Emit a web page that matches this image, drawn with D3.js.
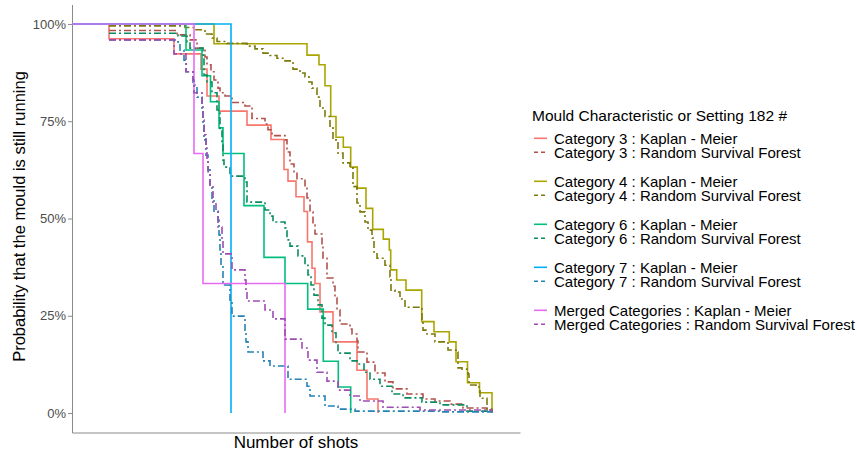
<!DOCTYPE html>
<html>
<head>
<meta charset="utf-8">
<script src="https://cdn.jsdelivr.net/npm/d3@7"></script>
<style>
  body { margin: 0; background: #fff; }
  svg { display: block; font-family: "Liberation Sans", Arial, sans-serif; }
</style>
</head>
<body>
<svg id="chart" width="857" height="452"></svg>
<script>
// survival curves: [shots, % still running]
var cat3Km = [[0,100],[37,96.2],[102,92.3],[129,88.4],[135,81.5],[147,77.6],[175,74.0],[199,70.3],[212,62.6],[216,59.6],[224,55.6],[232,51.8],[235.5,44.0],[240,37.2],[243,33.3],[248,26.0],[261,18.3],[285,11.0],[295,3.6],[306,0]];
var cat3Rsf = [[37,98.3],[105,97.2],[118,95.9],[125,93.8],[133,91.5],[135,89.5],[139,87.7],[142,85.6],[146,83.5],[148,82.3],[153,81.5],[160,79.8],[173,78.9],[180,75.7],[193,74.3],[196,72.8],[200,71.3],[213,70.2],[215,67.1],[218,64.0],[222,62.0],[225,60.2],[233,58.1],[235,55.3],[238,51.7],[241,48.3],[243,46.0],[250,43.2],[251,39.8],[255,34.7],[261,32.6],[263,29.6],[265,26.5],[268,22.9],[278,21.6],[280,20.3],[285,18.5],[286,15.7],[295,13.1],[303,10.3],[313,8.0],[321,6.2],[335,4.9],[351,3.6],[363,3.1],[378,2.3],[391,1.3],[415,0.8],[420,0.3]];
var cat4Km = [[0,100],[142,94.9],[235,92.0],[247,89.5],[253,84.1],[258.7,76.2],[264,70.9],[271.3,68.3],[278.7,63.2],[285.3,57.8],[294,52.6],[300.7,47.2],[311.3,44.7],[317.3,41.9],[318.7,36.8],[324.7,34.2],[334,31.6],[349.7,23.5],[362,20.9],[377.3,18.3],[384,13.2],[395.5,7.8],[407.5,5.2],[420,0]];
var cat4Rsf = [[37,99.5],[113,99.1],[124,98.5],[133,97.4],[140,96.4],[145,95.5],[155,95.0],[175,94.3],[183,93.6],[191,92.5],[198,91.9],[205,91.2],[213,90.5],[221,88.4],[228,87.4],[233,86.4],[237,85.1],[240,83.5],[245,81.2],[248,78.4],[253,76.2],[258,73.3],[261,70.2],[266,66.8],[271,64.3],[278,63.0],[281,58.2],[285,54.0],[288,51.7],[293,49.1],[296,47.0],[300,45.0],[302,41.4],[305,39.8],[313,38.0],[318,35.0],[319,31.6],[323,31.1],[328,29.3],[333,27.2],[350,23.9],[351,21.3],[355,20.3],[363,18.3],[376,16.2],[384,15.7],[386,11.6],[390,11.3],[396,10.0],[397,7.2],[404,6.7],[408,3.8],[415,1.0],[420,0.3]];
var cat6Km = [[0,100],[114,93.3],[130,86.7],[138.5,80.0],[147,73.3],[151,66.7],[172,53.3],[192,40.0],[213,33.3],[235.7,26.7],[251.3,13.3],[266.3,6.7],[278.7,0]];
var cat6Rsf = [[37,97.6],[106,96.9],[115,95.4],[118,93.8],[131,92.0],[132,86.9],[135,85.1],[140,82.3],[145,77.9],[148,72.8],[150,68.9],[151,65.0],[152,63.2],[158,60.9],[173,59.4],[175,54.2],[193,52.2],[198,50.6],[201,49.1],[213,47.6],[215,44.5],[218,42.9],[226,40.4],[233,38.0],[236,35.5],[239,32.9],[242,30.3],[246,27.8],[250,24.4],[253,22.6],[260,20.6],[264,17.5],[266,15.4],[278,13.4],[285,12.6],[292,10.5],[298,8.7],[308,6.9],[320,4.9],[331,3.9],[350,2.8],[368,2.1],[395,0.5],[420,0.2]];
var cat7Km = [[0,100],[159,0]];
var cat7Rsf = [[37,95.9],[103,95.4],[108,93.3],[112,90.7],[114,87.7],[121,84.3],[125,81.2],[130,77.9],[131,74.0],[132,70.2],[134,66.3],[136,62.5],[138,58.6],[140,54.8],[142,51.9],[146,49.6],[147,45.8],[148,41.9],[149,38.0],[151,32.9],[158,29.0],[160,24.9],[173,21.3],[174,18.3],[176,15.7],[191,13.4],[198,12.1],[216,8.7],[235,6.9],[238,4.4],[253,1.8],[266,1.0],[283,0.5],[368,0.3],[420,0.1]];
var mergedKm = [[0,100],[122,66.7],[131,33.3],[213,0]];
var mergedRsf = [[37,95.9],[102,92.3],[114,87.7],[121,85.6],[122,82.3],[130,79.4],[131,75.3],[132,71.5],[134,68.1],[135,65.0],[136,62.0],[138,58.6],[141,54.2],[144,51.7],[146,47.8],[150,44.5],[151,40.9],[160,36.8],[173,34.2],[174,31.6],[175,28.8],[193,26.5],[201,24.2],[213,19.0],[230,16.7],[236,13.6],[245,10.5],[255,8.2],[266,5.9],[278,4.4],[288,3.1],[311,1.5],[348,0.8],[420,0.3]];

var groups = ["Category 3", "Category 4", "Category 6", "Category 7", "Merged Categories"];
var methods = ["Kaplan - Meier", "Random Survival Forest"];
var yTicks = [0, 25, 50, 75, 100];

var series = [
  {group: 0, method: 0, data: cat3Km, color: "#F8766D"},
  {group: 0, method: 1, data: cat3Rsf, color: "#B2514B"},
  {group: 1, method: 0, data: cat4Km, color: "#AAA500"},
  {group: 1, method: 1, data: cat4Rsf, color: "#7C7A0C"},
  {group: 2, method: 0, data: cat6Km, color: "#00BF7D"},
  {group: 2, method: 1, data: cat6Rsf, color: "#0A8C5E"},
  {group: 3, method: 0, data: cat7Km, color: "#00B0F6"},
  {group: 3, method: 1, data: cat7Rsf, color: "#2383B4"},
  {group: 4, method: 0, data: mergedKm, color: "#E76BF3"},
  {group: 4, method: 1, data: mergedRsf, color: "#9E4DB2"}
];

var svg = d3.select("#chart");
var panel = {left: 72, right: 520, top: 4.5, bottom: 432.5};

var x = d3.scaleLinear().domain([0, 448]).range([panel.left, panel.right]);
var y = d3.scaleLinear().domain([-5, 105]).range([panel.bottom, panel.top]);

var line = d3.line()
  .x(function(d) { return x(d[0]); })
  .y(function(d) { return y(d[1]); })
  .curve(d3.curveStepAfter);

// axes
var yAxis = svg.append("g")
  .attr("transform", "translate(" + panel.left + ",0)")
  .call(d3.axisLeft(y).tickValues(yTicks).tickFormat(function(d) { return d + "%"; })
    .tickSizeInner(4).tickSizeOuter(0).tickPadding(2));
var xAxis = svg.append("g")
  .attr("transform", "translate(0," + panel.bottom + ")")
  .call(d3.axisBottom(x).tickValues([]).tickSizeOuter(0));

[yAxis, xAxis].forEach(function(a) {
  a.attr("font-size", 13).attr("font-family", "'Liberation Sans', Arial, sans-serif");
  a.selectAll("path, line").attr("stroke", "#8a8a8a").attr("stroke-width", 1);
  a.selectAll("text").attr("fill", "#4D4D4D");
});

svg.append("text")
  .attr("transform", "translate(19," + ((panel.top + panel.bottom) / 2 - 2) + ") rotate(-90)")
  .attr("text-anchor", "middle")
  .attr("dy", "0.35em")
  .style("font-size", "16.5px")
  .text("Probability that the mould is still running");

svg.append("text")
  .attr("x", (panel.left + panel.right) / 2)
  .attr("y", 448)
  .attr("text-anchor", "middle")
  .style("font-size", "17px")
  .text("Number of shots");

// curves
svg.append("g").selectAll("path")
  .data(series)
  .enter()
  .append("path")
  .attr("d", function(d) { return line(d.data); })
  .attr("fill", "none")
  .attr("stroke", function(d) { return d.color; })
  .attr("stroke-width", 1.6)
  .attr("stroke-dasharray", function(d) { return d.method ? "7,3,2,3" : null; });

// legend
var legend = svg.append("g");
legend.append("text")
  .attr("x", 532)
  .attr("y", 116)
  .attr("dy", "0.35em")
  .style("font-size", "15.5px")
  .text("Mould Characteristic or Setting 182 #");

var item = legend.selectAll(".item")
  .data(series)
  .enter()
  .append("g")
  .attr("class", "item")
  .attr("transform", function(d) {
    return "translate(0," + (138.3 + d.group * 43 + d.method * 14) + ")";
  });
item.append("line")
  .attr("x1", 534).attr("x2", 547)
  .attr("stroke", function(d) { return d.color; })
  .attr("stroke-width", 1.6)
  .attr("stroke-dasharray", function(d) { return d.method ? "4,3" : null; });
item.append("text")
  .attr("x", 554)
  .attr("dy", "0.35em")
  .style("font-size", "15px")
  .text(function(d) { return groups[d.group] + " : " + methods[d.method]; });
</script>
</body>
</html>
